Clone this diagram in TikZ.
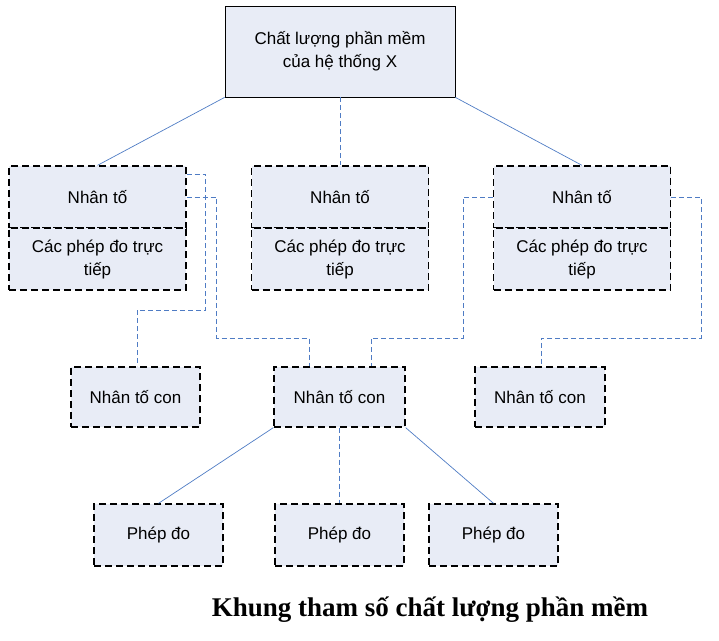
\documentclass[tikz,border=0pt]{standalone}
\usepackage{fontspec}
\setmainfont{Liberation Sans}
\newfontfamily\capfont{Liberation Serif}
\begin{document}
\begin{tikzpicture}[x=1pt,y=-1pt,
  bx/.style={draw=black,fill=boxfill,dash pattern=on 7pt off 4pt,line width=1.3pt,inner sep=0pt,align=center,font=\fontsize{17}{23}\selectfont},
  sl/.style={draw=linec,line width=0.7pt},
  dl/.style={draw=linec,line width=0.7pt,dash pattern=on 5pt off 3pt}]
\definecolor{boxfill}{HTML}{E8ECF6}
\definecolor{linec}{HTML}{4F7CC4}
\useasboundingbox (0,0) rectangle (719,640);
% top
\node[bx,solid,line width=0.8pt,minimum width=230pt,minimum height=91pt] (top) at (340,51.5) {Chất lượng phần mềm\\của hệ thống X};
% factors
\foreach \n/\x in {f1/97.5,f2/340,f3/582}{
  \node[bx,minimum width=177pt,minimum height=62pt] (\n) at (\x,197) {Nhân tố};
  \node[bx,minimum width=177pt,minimum height=62pt] (\n b) at (\x,259) {Các phép đo trực\\tiếp};
}
% subfactors
\node[bx,minimum width=129pt,minimum height=60pt] (s1) at (135.5,397) {Nhân tố con};
\node[bx,minimum width=131pt,minimum height=60pt] (s2) at (339.5,397) {Nhân tố con};
\node[bx,minimum width=130pt,minimum height=60pt] (s3) at (540,397) {Nhân tố con};
% metrics
\node[bx,minimum width=129pt,minimum height=62pt] (m1) at (158.5,535) {Phép đo};
\node[bx,minimum width=129pt,minimum height=62pt] (m2) at (339.5,535) {Phép đo};
\node[bx,minimum width=129pt,minimum height=62pt] (m3) at (493.5,535) {Phép đo};
\node[font=\capfont\bfseries\fontsize{27}{32}\selectfont] (cap) at (430,610) {Khung tham số chất lượng phần mềm};
% connectors
\draw[sl] (top.south west) -- (f1.north);
\draw[dl] (top.south) -- (f2.north);
\draw[sl] (top.south east) -- (f3.north);
\draw[dl] (f1.east) -- ++(30,0) |- (309,338) -- (309,338 |- s2.north);
\draw[dl] ([yshift=23pt]f1.east) -- ++(19,0) |- (137,310) -- (137,310 |- s1.north);
\draw[dl] (f3.west) -- ++(-30,0) |- (371,338) -- (371,338 |- s2.north);
\draw[dl] (f3.east) -- ++(30,0) |- (541,338) -- (541,338 |- s3.north);
\draw[sl] (s2.south west) -- (m1.north);
\draw[dl] (s2.south) -- (m2.north);
\draw[sl] (s2.south east) -- (m3.north);
\end{tikzpicture}
\end{document}
